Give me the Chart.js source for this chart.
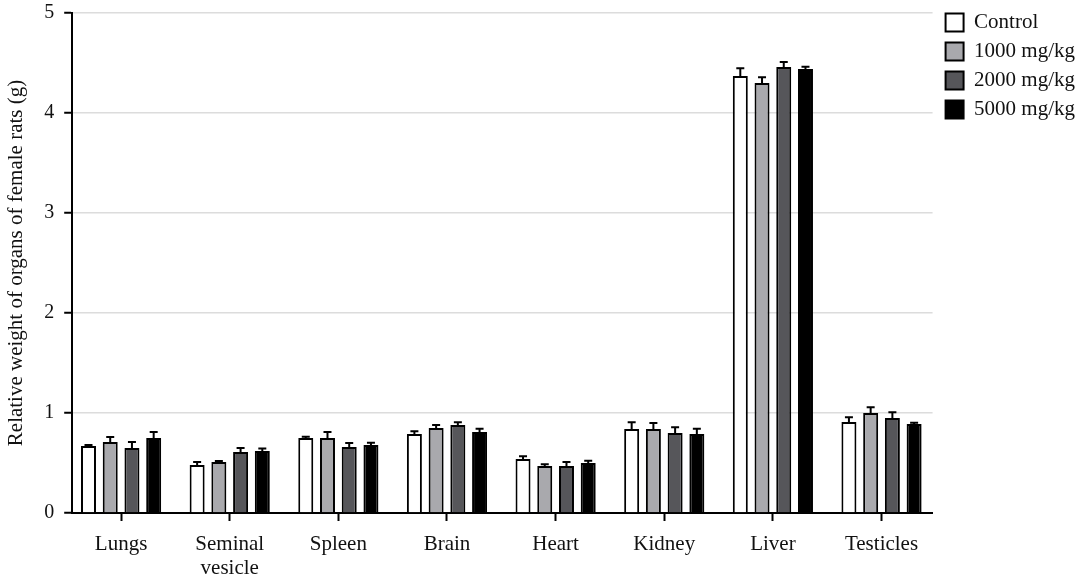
<!DOCTYPE html>
<html>
<head>
<meta charset="utf-8">
<script src="https://cdn.jsdelivr.net/npm/chart.js@4.4.1/dist/chart.umd.min.js"></script>
<style>
  body { margin: 0; background: #fff; }
  #wrap { width: 1084px; height: 579px; }
</style>
</head>
<body>
<div id="wrap"><canvas id="chart" width="1084" height="579"></canvas></div>
<script>
const organs = ["Lungs", ["Seminal", "vesicle"], "Spleen", "Brain", "Heart", "Kidney", "Liver", "Testicles"];
const groupNames = ["Control", "1000 mg/kg", "2000 mg/kg", "5000 mg/kg"];

const control = [0.67, 0.48, 0.75, 0.79, 0.54, 0.84, 4.37, 0.91];
const dose1000 = [0.71, 0.51, 0.75, 0.85, 0.47, 0.84, 4.30, 1.00];
const dose2000 = [0.65, 0.61, 0.66, 0.88, 0.47, 0.80, 4.46, 0.95];
const dose5000 = [0.75, 0.62, 0.68, 0.81, 0.50, 0.79, 4.44, 0.89];

const errControl = [0.01, 0.03, 0.013, 0.027, 0.027, 0.067, 0.077, 0.047];
const err1000 = [0.05, 0.01, 0.06, 0.03, 0.017, 0.06, 0.057, 0.057];
const err2000 = [0.06, 0.04, 0.04, 0.027, 0.04, 0.057, 0.05, 0.057];
const err5000 = [0.06, 0.025, 0.023, 0.033, 0.023, 0.053, 0.023, 0.013];

const yTicks = [0, 1, 2, 3, 4, 5];

const fills = ["#ffffff", "#a9a9ad", "#56565a", "#000000"];
const serif = "'Liberation Serif', 'DejaVu Serif', serif";

// upward error bars with a cap, drawn from the same scales as the bars
const errorBars = {
  id: "errorBars",
  afterDatasetsDraw(chart) {
    const ctx = chart.ctx;
    const yScale = chart.scales.y;
    ctx.save();
    ctx.strokeStyle = "#000";
    ctx.lineWidth = 2;
    chart.data.datasets.forEach((ds, i) => {
      const meta = chart.getDatasetMeta(i);
      meta.data.forEach((bar, j) => {
        const top = yScale.getPixelForValue(ds.data[j].y + ds.errors[j]);
        ctx.beginPath();
        ctx.moveTo(bar.x, bar.y);
        ctx.lineTo(bar.x, top);
        ctx.moveTo(bar.x - 4, top);
        ctx.lineTo(bar.x + 4, top);
        ctx.stroke();
      });
    });
    ctx.restore();
  }
};

// leave a little gap between plot and legend
const legendGap = {
  id: "legendGap",
  afterLayout(chart) {
    if (chart.legend) {
      chart.legend.left += 5;
      chart.legend.right += 5;
    }
  }
};

const series = [control, dose1000, dose2000, dose5000];
const errs = [errControl, err1000, err2000, err5000];

new Chart(document.getElementById("chart").getContext("2d"), {
  type: "bar",
  data: {
    datasets: series.map((vals, i) => ({
      label: groupNames[i],
      data: vals.map((v, k) => ({ x: k, y: v })),
      errors: errs[i],
      backgroundColor: fills[i],
      borderColor: "#000",
      borderWidth: 2,
      categoryPercentage: 0.8,
      barPercentage: 0.69
    }))
  },
  options: {
    responsive: false,
    animation: false,
    devicePixelRatio: 1,
    layout: { padding: { top: 4, right: 4, left: 4, bottom: 0 } },
    scales: {
      x: {
        type: "linear",
        min: -0.45,
        max: 7.47,
        offset: false,
        afterBuildTicks(scale) {
          scale.ticks = organs.map((_, i) => ({ value: i }));
        },
        afterFit(scale) {
          scale.height = 66;
        },
        border: { color: "#000", width: 2 },
        grid: {
          offset: false,
          drawOnChartArea: false,
          tickLength: 8,
          tickColor: "#000",
          tickWidth: 2
        },
        ticks: {
          color: "#111",
          padding: 11,
          maxRotation: 0,
          autoSkip: false,
          callback: v => organs[v],
          font: { family: serif, size: 21, lineHeight: 1.15 }
        }
      },
      y: {
        min: 0,
        max: 5,
        afterBuildTicks(scale) {
          scale.ticks = yTicks.map(v => ({ value: v }));
        },
        afterFit(scale) {
          scale.paddingTop = 13;
        },
        border: { color: "#000", width: 2 },
        grid: {
          color: ctx => (ctx.tick && ctx.tick.value === 0 ? "rgba(0,0,0,0)" : "#dcdcdc"),
          lineWidth: 1.5,
          tickLength: 8,
          tickColor: "#000",
          tickWidth: 2
        },
        ticks: {
          color: "#111",
          padding: 10,
          font: { family: serif, size: 20 }
        },
        title: {
          display: true,
          text: "Relative weight of organs of female rats (g)",
          color: "#111",
          padding: { top: 0, bottom: 5 },
          font: { family: serif, size: 21, lineHeight: 1.2 }
        }
      }
    },
    plugins: {
      legend: {
        position: "right",
        align: "start",
        labels: {
          color: "#111",
          boxWidth: 18,
          boxHeight: 18,
          padding: 8,
          font: { family: serif, size: 21 }
        }
      },
      tooltip: { enabled: false }
    }
  },
  plugins: [errorBars, legendGap]
});
</script>
</body>
</html>
